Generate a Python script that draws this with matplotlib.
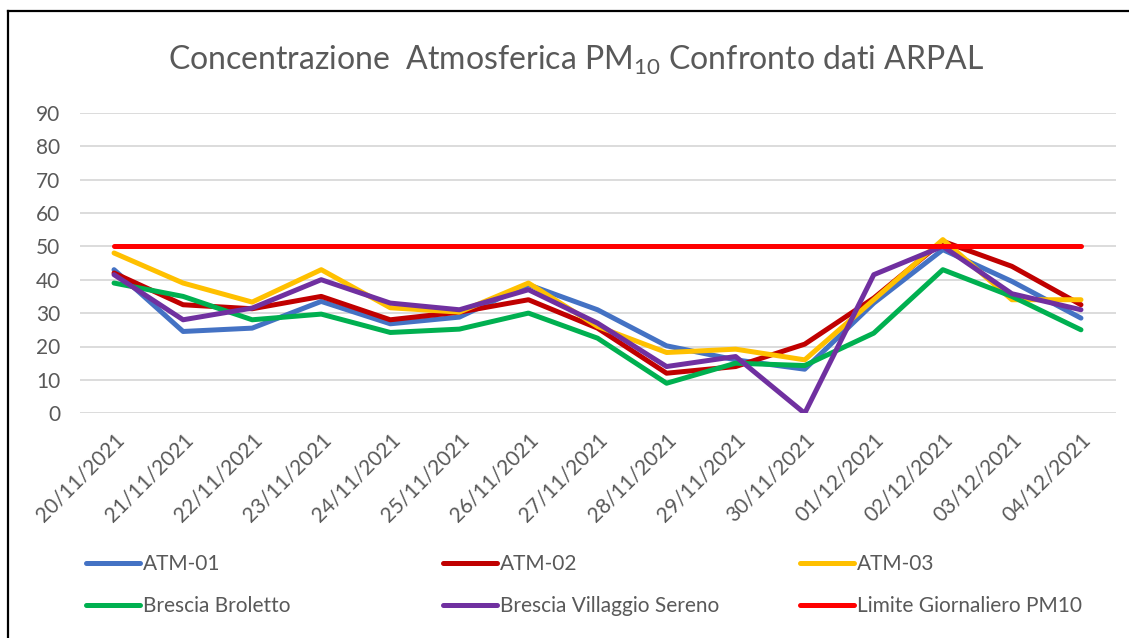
import matplotlib
matplotlib.use("Agg")
import matplotlib.pyplot as plt
from matplotlib.lines import Line2D

plt.rcParams['font.family'] = ['Lato', 'DejaVu Sans']

dates = ["20/11/2021", "21/11/2021", "22/11/2021", "23/11/2021", "24/11/2021",
         "25/11/2021", "26/11/2021", "27/11/2021", "28/11/2021", "29/11/2021",
         "30/11/2021", "01/12/2021", "02/12/2021", "03/12/2021", "04/12/2021"]
atm01 = [43, 24.5, 25.5, 33.5, 26.8, 28.8, 38.5, 31, 20.2, 16, 13.2, 33, 49, 39.5, 28.5]
atm02 = [42, 32.5, 31.3, 35, 28, 30.3, 34, 25.5, 12, 14, 20.7, 34.5, 51.5, 44, 32.5]
atm03 = [48, 39, 33.3, 43, 31.6, 30.3, 39, 26, 18.2, 19.2, 16, 34, 52, 34, 34]
broletto = [39, 35, 28, 29.7, 24.2, 25.2, 30, 22.5, 9, 15, 14.3, 24, 43, 35, 25]
villaggio = [41.5, 28, 31.5, 40, 33, 31, 37, 27, 14, 17, 0, 41.5, 50, 35.8, 31]
limite = [50, 50, 50, 50, 50, 50, 50, 50, 50, 50, 50, 50, 50, 50, 50]

series = [
    ("ATM-01", atm01, "#4472C4"),
    ("ATM-02", atm02, "#C00000"),
    ("ATM-03", atm03, "#FFC000"),
    ("Brescia Broletto", broletto, "#00B050"),
    ("Brescia Villaggio Sereno", villaggio, "#7030A0"),
    ("Limite Giornaliero PM10", limite, "#FF0000"),
]
yticks = [0, 10, 20, 30, 40, 50, 60, 70, 80, 90]

W, H = 1129, 638
fig = plt.figure(figsize=(W / 100, H / 100), dpi=100)
ax = fig.add_axes([79.5 / W, 1 - 413.3 / H, (1115.5 - 79.5) / W, (413.3 - 112.7) / H])

x = list(range(len(dates)))
handles = []
for name, vals, col in series:
    h, = ax.plot(x, vals, color=col, lw=3.6, solid_capstyle='round', solid_joinstyle='round', label=name)
    handles.append(h)

ax.set_xlim(-0.5, len(dates) - 0.5)
ax.set_ylim(0, 90)
ax.set_yticks(yticks)
ax.set_yticklabels([str(v) for v in yticks])
ax.set_xticks(x)
ax.set_xticklabels(dates, rotation=45, ha='right', rotation_mode='anchor')
ax.grid(axis='y', color='#D9D9D9', lw=1.3)
ax.set_axisbelow(True)
for s in ax.spines.values():
    s.set_visible(False)
ax.tick_params(axis='y', length=0, pad=14, labelsize=15, labelcolor='#595959')
ax.tick_params(axis='x', length=0, pad=12, labelsize=15, labelcolor='#595959')

fig.text(576 / W, 1 - 60 / H, "Concentrazione  Atmosferica PM$_{\\mathregular{10}}$ Confronto dati ARPAL",
         ha='center', va='center', fontsize=23, color='#595959')

# legend: three columns, two rows
cols_x = [86, 443, 800]
for i, cx in enumerate(cols_x):
    hs = [handles[i], handles[i + 3]]
    fig.legend(hs, [h.get_label() for h in hs], loc='center left',
               bbox_to_anchor=(cx / W, 1 - 585 / H), frameon=False, borderpad=0,
               borderaxespad=0, handlelength=2.6, handletextpad=0.12,
               labelspacing=1.05, fontsize=15, labelcolor='#595959')

# outer frame (left and top)
fig.add_artist(Line2D([8 / W, 8 / W], [0, 1 - 11 / H], transform=fig.transFigure, color='black', lw=1.6))
fig.add_artist(Line2D([8 / W, 1], [1 - 11 / H, 1 - 11 / H], transform=fig.transFigure, color='black', lw=1.6))

fig.savefig("out.png", dpi=100, facecolor='white')
